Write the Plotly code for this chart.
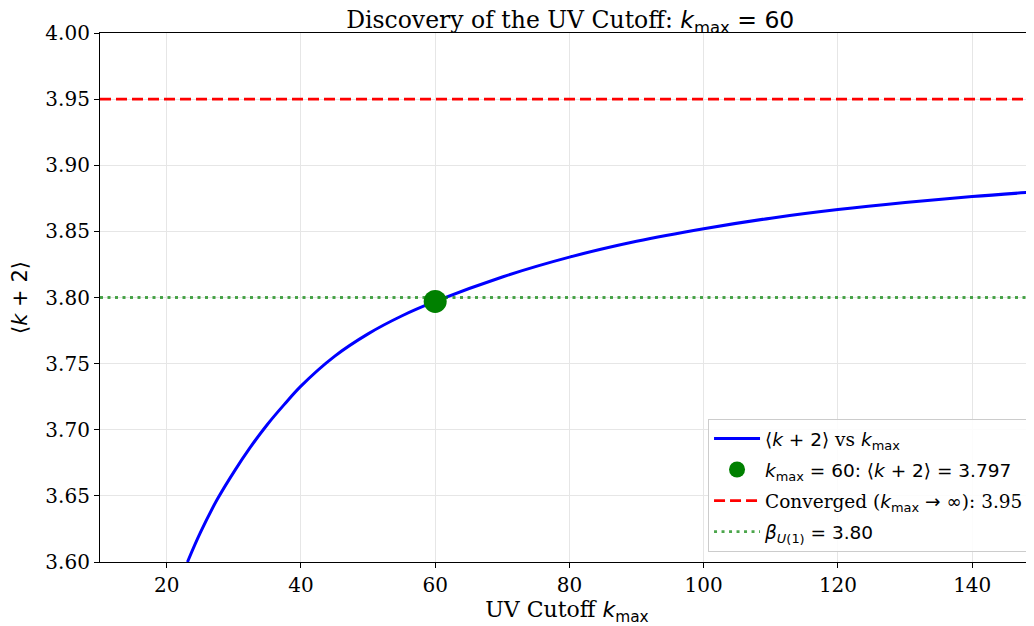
import plotly.graph_objects as go

# ---- data ----
k_max = [23.1, 25.0, 27.5, 30.0, 32.5, 35.0, 37.5, 40.0, 45.0, 50.0, 55.0, 60.0,
         70.0, 80.0, 90.0, 100.0, 110.0, 120.0, 130.0, 140.0, 148.4]
k2_mean = [3.600, 3.622, 3.647, 3.668, 3.687, 3.704, 3.719, 3.733, 3.7555, 3.7725,
           3.786, 3.797, 3.8155, 3.8305, 3.8425, 3.852, 3.860, 3.8665, 3.8718, 3.8763, 3.8795]
marker_k = [60]
marker_val = [3.797]
converged = 3.95
beta_u1 = 3.80
x_lim = [10.07, 149.2]
y_lim = [3.60, 4.00]
x_ticks = [20, 40, 60, 80, 100, 120, 140]
y_ticks = [3.60, 3.65, 3.70, 3.75, 3.80, 3.85, 3.90, 3.95, 4.00]

SERIF = "DejaVu Serif"
SANS = "DejaVu Sans"

def m(s):
    return f'<span style="font-family:{SANS}">{s}</span>'

kmax_txt = m('<i>k</i><sub>max</sub>')

fig = go.Figure()

fig.add_trace(go.Scatter(
    x=k_max, y=k2_mean, mode="lines", line=dict(color="#0000ff", width=3, shape="spline"),
    name=m('⟨<i>k</i> + 2⟩') + ' vs ' + kmax_txt, legendgroup="a"))

fig.add_trace(go.Scatter(
    x=marker_k, y=marker_val, mode="markers",
    marker=dict(color="#008000", size=23),
    name=m('<i>k</i><sub>max</sub> = 60: ⟨<i>k</i> + 2⟩ = 3.797'), legendgroup="b"))

fig.add_trace(go.Scatter(
    x=x_lim, y=[converged, converged], mode="lines",
    line=dict(color="#ff0000", width=2.8, dash="11px,5px"),
    name='Converged (' + m('<i>k</i><sub>max</sub> → ∞') + '): 3.95', legendgroup="c"))

fig.add_trace(go.Scatter(
    x=x_lim, y=[beta_u1, beta_u1], mode="lines",
    line=dict(color="rgba(0,128,0,0.7)", width=2.8, dash="3px,4.5px"),
    name=m('<i>β</i><sub><i>U</i>(1)</sub> = 3.80'), legendgroup="d"))

fig.update_layout(
    width=1026, height=618,
    margin=dict(l=92, r=0, t=25, b=64, autoexpand=False),
    paper_bgcolor="white", plot_bgcolor="white",
    font=dict(family=SERIF, size=20, color="black"),
    title=dict(text='Discovery of the UV Cutoff: ' + m('<i>k</i><sub>max</sub> = 60'),
               x=0.548, xanchor="center", xref="container",
               y=0.994, yanchor="top", yref="container",
               pad=dict(t=0, b=0, l=0, r=0),
               font=dict(family=SERIF, size=23.5)),
    showlegend=True,
    legend=dict(x=0.651, y=0.019, xanchor="left", yanchor="bottom",
                bgcolor="rgba(255,255,255,0.85)", bordercolor="#cccccc", borderwidth=1,
                font=dict(family=SERIF, size=18.5), itemwidth=46, tracegroupgap=4),
    xaxis=dict(range=x_lim, tickvals=x_ticks, ticks="outside", ticklen=5, tickwidth=1,
               tickcolor="black", showline=True, linecolor="black", linewidth=1.2,
               mirror=True, showgrid=True, gridcolor="#e6e6e6", gridwidth=1,
               zeroline=False, automargin=False, tickfont=dict(family=SERIF, size=20),
               title=dict(text='UV Cutoff ' + kmax_txt, font=dict(family=SERIF, size=22),
                          standoff=7)),
    yaxis=dict(range=y_lim, tickvals=y_ticks, tickformat=".2f", ticks="outside", ticklen=5,
               tickwidth=1, tickcolor="black", showline=True, linecolor="black",
               linewidth=1.2, showgrid=True, gridcolor="#e6e6e6", gridwidth=1,
               zeroline=False, automargin=False, tickfont=dict(family=SERIF, size=20),
               title=dict(text=m('⟨<i>k</i> + 2⟩'), font=dict(family=SANS, size=21),
                          standoff=12)),
)

fig.write_html("out.html")
